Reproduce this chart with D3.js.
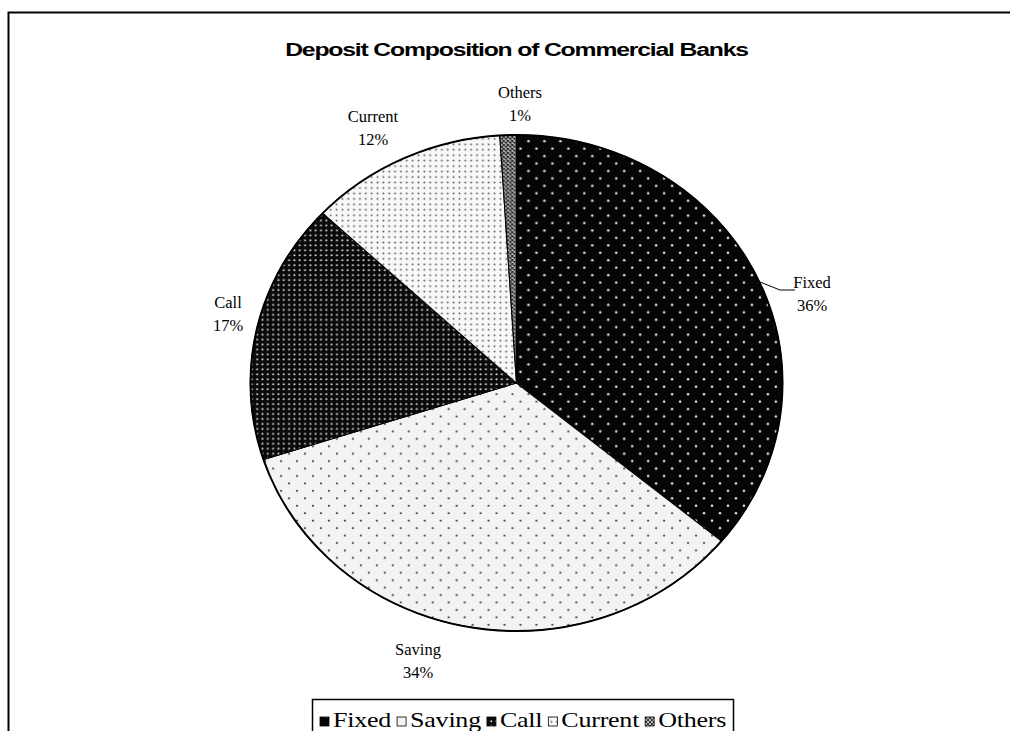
<!DOCTYPE html>
<html>
<head>
<meta charset="utf-8">
<script src="https://cdn.jsdelivr.net/npm/d3@7"></script>
<style>
  html, body { margin: 0; padding: 0; background: #fff; }
  svg { display: block; }
</style>
</head>
<body>
<svg id="chart" width="1010" height="731"></svg>
<script>
// Deposit composition data (share of total deposits, %)
const categories = ["Fixed", "Saving", "Call", "Current", "Others"];
const shares = [36, 34, 17, 12, 1];
const shareLabels = ["36%", "34%", "17%", "12%", "1%"];
const title = "Deposit Composition of Commercial Banks";

const svg = d3.select("#chart");
const W = 1010, H = 731;

// Outer chart frame
svg.append("rect")
  .attr("x", 8.5).attr("y", 12.5)
  .attr("width", W + 10).attr("height", H + 10)
  .attr("fill", "none").attr("stroke", "#000").attr("stroke-width", 2);

// Fill patterns: dotted screens and a crosshatch
const defs = svg.append("defs");

function dotPattern(id, bg, dot, step, r, stagger) {
  const p = defs.append("pattern")
    .attr("id", id).attr("patternUnits", "userSpaceOnUse")
    .attr("width", step).attr("height", step);
  p.append("rect").attr("width", step).attr("height", step).attr("fill", bg);
  p.append("circle").attr("cx", step * 0.25).attr("cy", step * 0.25).attr("r", r).attr("fill", dot);
  if (stagger) {
    p.append("circle").attr("cx", step * 0.75).attr("cy", step * 0.75).attr("r", r).attr("fill", dot);
  }
}
dotPattern("pFixed", "#050505", "#e0e0e0", 15, 1.2, true);
dotPattern("pSaving", "#f3f3f3", "#444", 15, 1.1, true);
dotPattern("pCall", "#0a0a0a", "#d5d5d5", 5, 1.0, false);
dotPattern("pCurrent", "#f8f8f8", "#555", 5.5, 0.9, false);

const ph = defs.append("pattern")
  .attr("id", "pOthers").attr("patternUnits", "userSpaceOnUse")
  .attr("width", 4).attr("height", 4);
ph.append("rect").attr("width", 4).attr("height", 4).attr("fill", "#bdbdbd");
ph.append("path").attr("d", "M0,0L4,4M4,0L0,4").attr("stroke", "#222").attr("stroke-width", 0.9);

const fills = ["url(#pFixed)", "url(#pSaving)", "url(#pCall)", "url(#pCurrent)", "url(#pOthers)"];
const colour = d3.scaleOrdinal().domain(categories).range(fills);

// Title: bold sans, stretched horizontally
const titleText = svg.append("text")
  .attr("x", 0).attr("y", 0)
  .attr("text-anchor", "middle")
  .attr("font-family", "Liberation Sans, Arial, sans-serif")
  .attr("font-weight", "bold").attr("font-size", 19)
  .attr("letter-spacing", -0.9)
  .text(title);
const titleW = titleText.node().getComputedTextLength();
titleText.attr("transform", `translate(516.5,56) scale(${463 / titleW},1)`);

// Pie, drawn as a slightly flattened ellipse
const cx = 516.5, cy = 383, R = 250, rx = 266, ry = 248;
const data = categories.map((c, i) => ({ name: c, value: shares[i], label: shareLabels[i] }));
const pie = d3.pie().value(d => d.value).sort(null);
const arc = d3.arc().innerRadius(0).outerRadius(R);
const arcs = pie(data);

const g = svg.append("g")
  .attr("transform", `translate(${cx},${cy}) scale(${rx / R},${ry / R})`);
g.selectAll("path.slice")
  .data(arcs)
  .join("path")
  .attr("class", "slice")
  .attr("d", arc)
  .attr("fill", d => colour(d.data.name))
  .attr("stroke", "#000")
  .attr("stroke-width", 1);

svg.append("ellipse")
  .attr("cx", cx).attr("cy", cy).attr("rx", rx).attr("ry", ry)
  .attr("fill", "none").attr("stroke", "#000").attr("stroke-width", 2);

// Slice labels outside the rim
const labelFont = "Liberation Serif, Times New Roman, serif";
const labelPos = {
  Fixed: [812, 288],
  Saving: [418, 655],
  Call: [228, 308],
  Current: [373, 122],
  Others: [520, 98]
};
const lg = svg.append("g");
arcs.forEach(a => {
  const [x, y] = labelPos[a.data.name];
  const t = lg.append("text")
    .attr("font-family", labelFont).attr("font-size", 16.5)
    .attr("text-anchor", "middle");
  t.append("tspan").attr("x", x).attr("y", y).text(a.data.name);
  t.append("tspan").attr("x", x).attr("y", y + 23).text(a.data.label);
});

// Leader line for the Fixed label
lg.append("polyline")
  .attr("points", "760,282 780,290 795,290")
  .attr("fill", "none").attr("stroke", "#000").attr("stroke-width", 1);

// Legend
const legend = svg.append("g");
legend.append("rect")
  .attr("x", 312.5).attr("y", 699.5)
  .attr("width", 421).attr("height", 40)
  .attr("fill", "#fff").attr("stroke", "#000").attr("stroke-width", 1.5);

const legendFontSize = 21, legendStretch = 1.24;
let lx = 320;
const ly = 727;
data.forEach(d => {
  legend.append("rect")
    .attr("x", lx).attr("y", ly - 10)
    .attr("width", 9).attr("height", 9)
    .attr("fill", colour(d.name))
    .attr("stroke", "#000").attr("stroke-width", 0.8);
  const txt = legend.append("text")
    .attr("x", 0).attr("y", 0)
    .attr("font-family", labelFont).attr("font-size", legendFontSize)
    .attr("letter-spacing", -0.2)
    .text(d.name);
  const w = txt.node().getComputedTextLength() * legendStretch;
  txt.attr("transform", `translate(${lx + 13},${ly}) scale(${legendStretch},1)`);
  lx += 13 + w + 6;
});
</script>
</body>
</html>
